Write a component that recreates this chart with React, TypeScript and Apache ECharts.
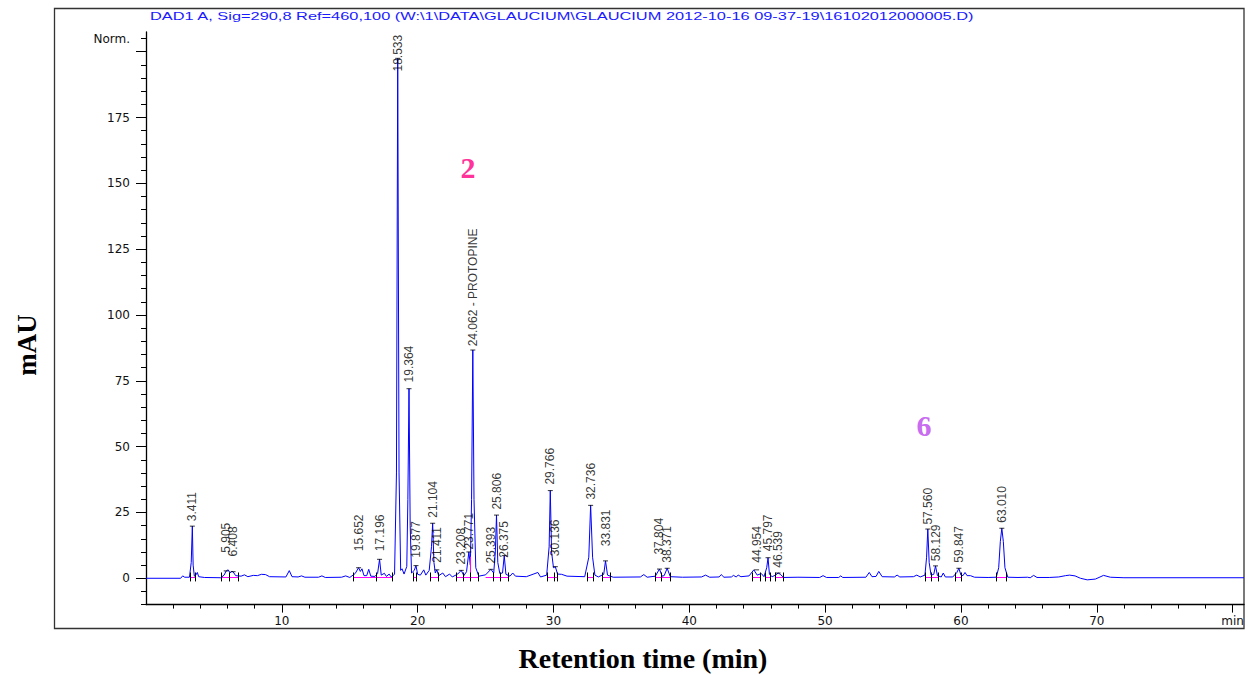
import React, { useEffect, useRef } from "react";
import * as echarts from "echarts";

// ---------- text ----------
const titleText =
  "DAD1 A, Sig=290,8 Ref=460,100 (W:\\1\\DATA\\GLAUCIUM\\GLAUCIUM 2012-10-16 09-37-19\\16102012000005.D)";
const xTitle = "Retention time (min)";
const yTitle = "mAU";
const xUnitLabel = "min";
const yTopLabel = "Norm.";

// ---------- axes ----------
const xMin = 0;
const xMax = 80.84;
const yMin = -10;
const yMax = 207.5;
const xTickLabels = [10, 20, 30, 40, 50, 60, 70];
const xMajorTicks = [10, 20, 30, 40, 50, 60, 70, 80];
const yTickLabels = [0, 25, 50, 75, 100, 125, 150, 175];
const yMajorTicks = [0, 25, 50, 75, 100, 125, 150, 175, 200];
const yNormValue = 205;

// ---------- chromatogram trace [time (min), signal (mAU)] ----------
const trace: [number, number][] = [
  [0, 0], [2.55, 0], [2.7, 0.9], [2.85, 0.4], [3.2, 0.4], [3.33, 6], [3.411, 19.8], [3.47, 5], [3.56, 0.8],
  [3.68, 1.3], [3.78, 2.2], [3.88, 0.6], [4.3, 0.3],
  [5.5, 0.2], [5.75, 1.2], [5.905, 2.8], [6.05, 3.2], [6.2, 2.0], [6.3, 2.6], [6.408, 2.5], [6.6, 1.0],
  [7.0, 0.8], [7.25, 1.3], [7.5, 0.6], [7.9, 1.1], [8.2, 1.0], [8.5, 1.5], [8.8, 1.4], [9.1, 0.6],
  [10.3, 0.5], [10.55, 2.9], [10.75, 0.6], [11.2, 0.5], [11.45, 0.9], [11.7, 0.4], [12.7, 0.4],
  [12.95, 0.9], [13.2, 0.3], [14.4, 0.4], [14.7, 0.9], [15.0, 0.3], [15.4, 1.8], [15.652, 4.0],
  [15.78, 2.6], [15.9, 3.6], [16.05, 1.0], [16.25, 1.0], [16.4, 3.4], [16.55, 0.8], [16.85, 0.7],
  [17.05, 1.8], [17.196, 7.2], [17.32, 1.2], [17.55, 1.9], [17.7, 0.7], [17.9, 1.6], [18.05, 0.5],
  [18.3, 1.5], [18.44, 40], [18.533, 197.5], [18.63, 40], [18.75, 3], [18.85, 3.6], [19.0, 1.6],
  [19.2, 4.5], [19.28, 30], [19.364, 72], [19.45, 20], [19.55, 2], [19.75, 3], [19.877, 4.8],
  [20.0, 1.5], [20.2, 1.2], [20.45, 3.2], [20.6, 1.2], [20.85, 3], [21.02, 12], [21.104, 20.9],
  [21.2, 6], [21.3, 2], [21.411, 3.2], [21.55, 1.0], [21.85, 2.0], [22.05, 0.6], [22.35, 1.6],
  [22.55, 0.5], [22.95, 1.6], [23.208, 3.0], [23.4, 1.0], [23.6, 2.5], [23.771, 10], [23.88, 5],
  [23.97, 30], [24.062, 86.7], [24.15, 30], [24.28, 4], [24.5, 0.8], [25.0, 1.3], [25.393, 3.4],
  [25.6, 2.0], [25.72, 10], [25.806, 24], [25.9, 6], [26.05, 1.8], [26.25, 2], [26.375, 8.6],
  [26.5, 1.5], [26.8, 0.8], [27.0, 2.0], [27.2, 0.8], [28.0, 0.6], [28.85, 2.2], [29.05, 0.5],
  [29.5, 1.2], [29.68, 12], [29.766, 33.3], [29.86, 10], [30.0, 4], [30.136, 4.4], [30.3, 1.6],
  [30.6, 1.5], [31.0, 0.8], [32.3, 0.6], [32.6, 8], [32.736, 27.7], [32.88, 8], [33.05, 1.2],
  [33.3, 0.5], [33.7, 1.5], [33.831, 6.6], [33.98, 1.2], [34.4, 0.4], [36.4, 0.5], [36.65, 1.4],
  [36.9, 0.4], [37.5, 0.8], [37.804, 3.5], [38.0, 0.8], [38.15, 1], [38.371, 3.8], [38.6, 0.6],
  [39.5, 0.4], [40.9, 0.5], [41.2, 1.2], [41.5, 0.4], [42.2, 0.5], [42.35, 1.4], [42.55, 0.4],
  [43.1, 0.5], [43.25, 1.1], [43.45, 0.5], [43.6, 1.2], [43.8, 0.6], [44.4, 0.9], [44.75, 3.2],
  [45.0, 1.2], [45.3, 1.8], [45.5, 0.6], [45.7, 4], [45.797, 7.8], [45.9, 1.5], [46.1, 0.6],
  [46.35, 1.2], [46.539, 2.0], [46.7, 1.5], [46.95, 0.3], [48.0, 0.4], [49.6, 0.3], [49.85, 1.0],
  [50.1, 0.3], [51.0, 0.3], [51.15, 0.9], [51.3, 0.3], [53.0, 0.4], [53.25, 2.2], [53.45, 0.6],
  [53.75, 0.7], [53.95, 2.6], [54.2, 0.6], [55.1, 0.5], [55.3, 1.2], [55.5, 0.5], [56.5, 0.6],
  [56.75, 1.2], [57.0, 0.5], [57.35, 1.2], [57.47, 8], [57.56, 18.7], [57.66, 6], [57.8, 1.2],
  [58.0, 1.5], [58.129, 4.7], [58.27, 1.0], [58.55, 0.5], [58.7, 2.0], [58.85, 0.5], [59.4, 0.5],
  [59.7, 2.2], [59.847, 3.8], [60.0, 1.2], [60.15, 1.0], [60.3, 2.2], [60.45, 1.0], [60.7, 1.0],
  [61.0, 0.4], [62.0, 0.3], [62.6, 0.4], [62.78, 4], [62.9, 14], [63.01, 19.0], [63.12, 14],
  [63.24, 4], [63.45, 0.4], [64.2, 0.3], [64.9, 0.4], [65.1, 0.2], [65.35, 1.1], [65.6, 0.3],
  [66.5, 0.3], [67.2, 0.5], [67.7, 1.0], [68.0, 1.2], [68.4, 0.9], [68.8, 0.0], [69.3, -0.6],
  [69.9, -0.3], [70.5, 1.1], [71.0, 0.4], [72.0, 0.2], [80.84, 0.2],
];

// ---------- labelled peaks ----------
const peakTimes = [
  3.411, 5.905, 6.408, 15.652, 17.196, 18.533, 19.364, 19.877, 21.104, 21.411, 23.208, 23.771,
  24.062, 25.393, 25.806, 26.375, 29.766, 30.136, 32.736, 33.831, 37.804, 38.371, 44.954,
  45.797, 46.539, 57.56, 58.129, 59.847, 63.01,
];
// apex height (mAU) of each labelled peak
const peakHeights = [
  19.8, 2.8, 2.5, 4.0, 7.2, 197.5, 72, 4.8, 20.9, 3.2, 3.0, 10, 86.7, 3.4, 24, 8.6, 33.3, 4.4,
  27.7, 6.6, 3.5, 3.8, 3.2, 7.8, 2.0, 18.7, 4.7, 3.8, 19.0,
];
// level (mAU) at which each retention-time label begins
const labelLevels = [
  21.5, 9.5, 8.1, 10.1, 10.1, 192.3, 74.2, 7.6, 22.8, 5.7, 5.0, 10.7, 87.9, 5.4, 25.9, 7.6, 35.4,
  8.2, 29.7, 12.0, 8.8, 5.7, 5.7, 10.1, 3.8, 20.2, 6.3, 5.7, 20.9,
];
const peakNames = [
  "3.411", "5.905", "6.408", "15.652", "17.196", "18.533", "19.364", "19.877", "21.104", "21.411",
  "23.208", "23.771", "24.062 - PROTOPINE", "25.393", "25.806", "26.375", "29.766", "30.136",
  "32.736", "33.831", "37.804", "38.371", "44.954", "45.797", "46.539", "57.560", "58.129",
  "59.847", "63.010",
];

// ---------- integration baselines and events ----------
const baselineLevel = 0.4;
const baselineSegments: [number, number][] = [
  [3.24, 3.66], [5.57, 6.8], [15.27, 16.98], [16.98, 18.16], [19.68, 19.93], [20.95, 21.52],
  [22.87, 24.47], [25.0, 26.67], [29.54, 30.31], [32.49, 32.93], [33.62, 34.16], [37.47, 38.58],
  [44.67, 45.25], [45.57, 45.99], [46.3, 46.92], [57.35, 58.33], [59.56, 60.05], [62.63, 63.37],
];
const dropLines: [number, number][] = [[23.9, 8.2]];
const eventTimes = [
  3.24, 3.66, 5.57, 6.11, 6.8, 15.27, 16.98, 18.16, 19.68, 19.93, 20.95, 21.52, 22.87, 23.36,
  23.85, 24.47, 25.57, 26.06, 26.67, 29.54, 30.06, 30.31, 32.49, 32.93, 33.62, 34.16, 37.47,
  37.96, 38.58, 44.67, 45.25, 45.57, 45.99, 46.3, 46.92, 57.35, 57.84, 58.33, 59.56, 60.05,
  62.63, 63.37,
];

// ---------- compound annotations ----------
const compoundMarks = [
  { text: "2", x: 468, y: 167, color: "#ff3399" },
  { text: "6", x: 924, y: 425, color: "#c86cf0" },
];

const minorX: number[] = [];
for (let v = 2; v <= 80; v += 2) minorX.push(v);
const minorY: number[] = [];
for (let v = -10; v <= 205; v += 5) minorY.push(v);

const tickFont = { fontFamily: "DejaVu Sans", fontSize: 12, color: "#111" };

export default function App() {
  const ref = useRef<HTMLDivElement>(null);

  useEffect(() => {
    if (!ref.current) return;
    const chart = echarts.init(ref.current, undefined, { renderer: "svg" });

    const option: any = {
      animation: false,
      backgroundColor: "#ffffff",
      grid: {
        left: 146,
        top: 32,
        right: 4,
        bottom: 70.4,
        containLabel: false,
        outerBoundsMode: "none",
      },
      xAxis: [
        {
          type: "value",
          min: xMin,
          max: xMax,
          position: "bottom",
          axisLine: { show: true, onZero: false, lineStyle: { color: "#000", width: 1.3 } },
          axisTick: { show: true, length: 8, customValues: xMajorTicks, lineStyle: { color: "#000", width: 1 } },
          axisLabel: {
            show: true,
            customValues: [...xTickLabels, 80],
            formatter: (v: number) => (v === 80 ? xUnitLabel : String(v)),
            margin: 10,
            ...tickFont,
          },
          splitLine: { show: false },
        },
        {
          type: "value",
          min: xMin,
          max: xMax,
          position: "bottom",
          axisLine: { show: false, onZero: false },
          axisTick: { show: true, length: 4, customValues: minorX, lineStyle: { color: "#000", width: 1 } },
          axisLabel: { show: false },
          splitLine: { show: false },
        },
      ],
      yAxis: [
        {
          type: "value",
          min: yMin,
          max: yMax,
          position: "left",
          axisLine: { show: true, onZero: false, lineStyle: { color: "#000", width: 1.3 } },
          axisTick: { show: true, length: 10, customValues: yMajorTicks, lineStyle: { color: "#000", width: 1 } },
          axisLabel: {
            show: true,
            customValues: [...yTickLabels, yNormValue],
            formatter: (v: number) => (v === yNormValue ? yTopLabel : String(v)),
            margin: 16,
            ...tickFont,
          },
          splitLine: { show: false },
        },
        {
          type: "value",
          min: yMin,
          max: yMax,
          position: "left",
          axisLine: { show: false, onZero: false },
          axisTick: { show: true, length: 5, customValues: minorY, lineStyle: { color: "#000", width: 1 } },
          axisLabel: { show: false },
          splitLine: { show: false },
        },
      ],
      series: [
        {
          type: "line",
          name: "DAD1 A",
          xAxisIndex: 0,
          yAxisIndex: 0,
          data: trace,
          showSymbol: false,
          symbol: "none",
          silent: true,
          lineStyle: { color: "#0000ff", width: 1 },
          itemStyle: { color: "#0000ff" },
          z: 3,
        },
        {
          type: "lines",
          coordinateSystem: "cartesian2d",
          xAxisIndex: 0,
          yAxisIndex: 0,
          silent: true,
          data: [
            ...baselineSegments.map(([s, e]) => ({ coords: [[s, baselineLevel], [e, baselineLevel]] })),
            ...dropLines.map(([t, top]) => ({ coords: [[t, baselineLevel], [t, top]] })),
          ],
          lineStyle: { color: "#ff00ff", width: 1, opacity: 1, curveness: 0 },
          z: 4,
        },
        {
          type: "lines",
          coordinateSystem: "cartesian2d",
          xAxisIndex: 0,
          yAxisIndex: 0,
          silent: true,
          data: eventTimes.map((t) => ({ coords: [[t, -1.2], [t, 2.2]] })),
          lineStyle: { color: "#000", width: 1, opacity: 1, curveness: 0 },
          z: 5,
        },
        {
          // apex marks
          type: "scatter",
          xAxisIndex: 0,
          yAxisIndex: 0,
          silent: true,
          symbol: "rect",
          symbolSize: [5, 1],
          itemStyle: { color: "#000" },
          data: peakTimes.map((t, i) => [t, peakHeights[i]]),
          z: 6,
        },
        {
          // retention-time labels
          type: "scatter",
          xAxisIndex: 0,
          yAxisIndex: 0,
          silent: true,
          symbol: "circle",
          symbolSize: 1,
          itemStyle: { color: "rgba(0,0,0,0)" },
          data: peakTimes.map((t, i) => ({ value: [t, labelLevels[i]], name: peakNames[i] })),
          label: {
            show: true,
            position: "top",
            distance: 0,
            rotate: 90,
            align: "left",
            verticalAlign: "middle",
            formatter: "{b}",
            fontFamily: "Liberation Sans",
            fontSize: 12,
            color: "#000",
          },
          labelLayout: { hideOverlap: false },
          z: 7,
        },
      ],
      graphic: [
        {
          type: "rect",
          silent: true,
          shape: { x: 54.5, y: 8.5, width: 1189.5, height: 620 },
          style: { fill: "none", stroke: "#333", lineWidth: 1.3 },
        },
        {
          type: "text",
          silent: true,
          x: 150,
          y: 17,
          scaleX: 1.56,
          style: {
            text: titleText,
            fontFamily: "Liberation Sans",
            fontSize: 10.5,
            fill: "#1a1aff",
            align: "left",
            verticalAlign: "middle",
            textAlign: "left",
            textVerticalAlign: "middle",
          },
        },
        {
          type: "text",
          silent: true,
          x: 643,
          y: 658,
          style: {
            text: xTitle,
            fontFamily: "Liberation Serif",
            fontWeight: "bold",
            fontSize: 28,
            fill: "#000",
            align: "center",
            verticalAlign: "middle",
            textAlign: "center",
            textVerticalAlign: "middle",
          },
        },
        {
          type: "text",
          silent: true,
          x: 27,
          y: 345,
          rotation: Math.PI / 2,
          style: {
            text: yTitle,
            fontFamily: "Liberation Serif",
            fontWeight: "bold",
            fontSize: 27,
            fill: "#000",
            align: "center",
            verticalAlign: "middle",
            textAlign: "center",
            textVerticalAlign: "middle",
          },
        },
        ...compoundMarks.map((m) => ({
          type: "text",
          silent: true,
          x: m.x,
          y: m.y,
          style: {
            text: m.text,
            fontFamily: "Liberation Serif",
            fontWeight: "bold",
            fontSize: 30,
            fill: m.color,
            align: "center",
            verticalAlign: "middle",
            textAlign: "center",
            textVerticalAlign: "middle",
          },
        })),
      ],
    };

    chart.setOption(option);
    return () => {
      chart.dispose();
    };
  }, []);

  return (
    <div
      ref={ref}
      style={{ position: "absolute", left: 0, top: 0, width: 1248, height: 675, background: "#fff" }}
    />
  );
}
